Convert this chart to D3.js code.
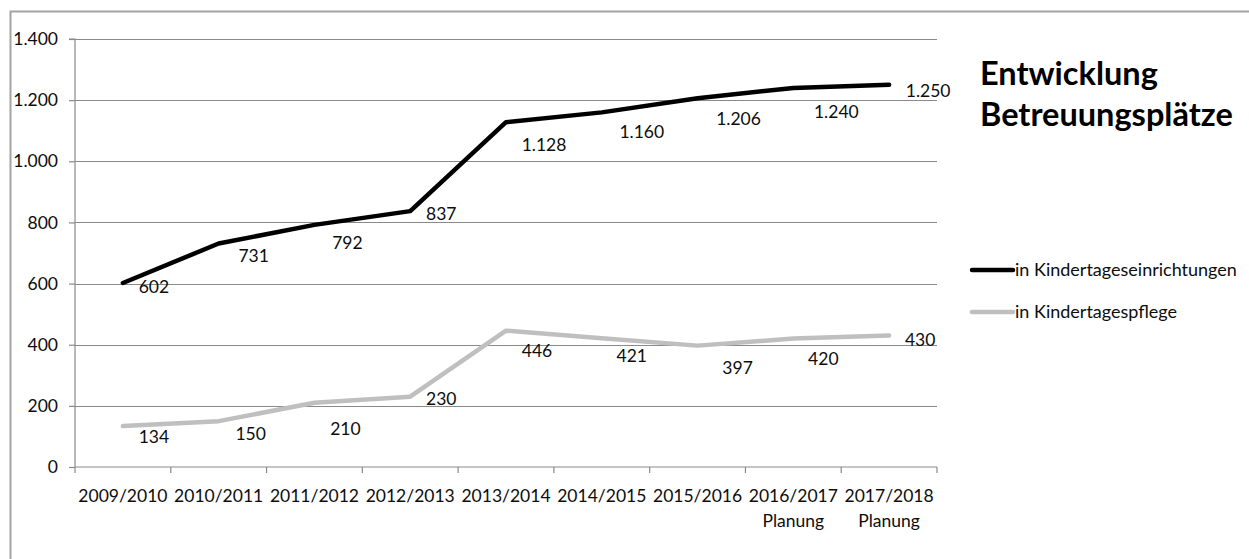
<!DOCTYPE html>
<html>
<head>
<meta charset="utf-8">
<script src="https://cdn.jsdelivr.net/npm/d3@7/dist/d3.min.js"></script>
<style>
  html, body { margin: 0; padding: 0; background: #fff; }
  svg { display: block; font-family: Lato, "Open Sans", sans-serif; }
</style>
</head>
<body>
<svg id="chart" width="1249" height="559"></svg>
<script>
// School years shown on the x axis, with an optional second label line
const categories = ["2009/2010", "2010/2011", "2011/2012", "2012/2013", "2013/2014",
                    "2014/2015", "2015/2016", "2016/2017", "2017/2018"];
const categoryNotes = ["", "", "", "", "", "", "", "Planung", "Planung"];

// Childcare places per year
const kitaValues = [602, 731, 792, 837, 1128, 1160, 1206, 1240, 1250];
const pflegeValues = [134, 150, 210, 230, 446, 421, 397, 420, 430];

const seriesNames = ["in Kindertageseinrichtungen", "in Kindertagespflege"];
const yTicks = [0, 200, 400, 600, 800, 1000, 1200, 1400];
const titleLines = ["Entwicklung", "Betreuungsplätze"];

// Small per-label nudges (px) so value labels sit clear of the lines
const kitaLabelNudge = [[31, 4], [35, 12], [33, 18], [31, 3], [38, 23], [40, 20], [41, 21], [43, 24], [39, 6]];
const pflegeLabelNudge = [[31, 11], [32, 13], [31, 26], [31, 2], [31, 20], [30, 18], [40, 22], [30, 20], [31, 4]];

const de = d3.formatLocale({ decimal: ",", thousands: ".", grouping: [3], currency: ["", " €"] });
const fmt = de.format(",d");

const svg = d3.select("#chart");
const plotLeft = 75, plotRight = 937, plotTop = 39, plotBottom = 467;
const gridColor = "#8a8a8a";
const textColor = "#0d0d0d";

// Outer frame
svg.append("rect")
  .attr("x", 10.5).attr("y", 11.5)
  .attr("width", 1300).attr("height", 600)
  .attr("fill", "none").attr("stroke", "#a3a3a3").attr("stroke-width", 2);

const x = d3.scaleBand().domain(categories).range([plotLeft, plotRight]).paddingInner(0).paddingOuter(0);
const y = d3.scaleLinear().domain([0, 1400]).range([plotBottom, plotTop]);
const cx = c => x(c) + x.bandwidth() / 2;

// Horizontal gridlines
svg.append("g")
  .selectAll("line")
  .data(yTicks.filter(d => d > 0))
  .join("line")
  .attr("x1", plotLeft).attr("x2", plotRight)
  .attr("y1", d => Math.round(y(d)) + 0.5).attr("y2", d => Math.round(y(d)) + 0.5)
  .attr("stroke", gridColor).attr("stroke-width", 1.2);

// Y axis
const yAxis = svg.append("g")
  .attr("transform", `translate(${plotLeft},0)`)
  .call(d3.axisLeft(y).tickValues(yTicks).tickFormat(fmt).tickSize(6).tickPadding(11));
yAxis.select(".domain").attr("stroke", gridColor).attr("stroke-width", 1.2).attr("d", `M-6,${plotTop}H0V${plotBottom}`);
yAxis.selectAll(".tick line").attr("stroke", gridColor).attr("stroke-width", 1.2);
yAxis.selectAll(".tick text").attr("font-size", 17.5).attr("fill", textColor).attr("font-family", "Lato");

// X axis with boundary ticks between categories
const xAxis = svg.append("g")
  .attr("transform", `translate(0,${plotBottom})`)
  .call(d3.axisBottom(x).tickSize(0).tickFormat(() => ""));
xAxis.select(".domain").attr("stroke", gridColor).attr("stroke-width", 1.2).attr("d", `M${plotLeft},0H${plotRight}`);

const boundaries = d3.range(categories.length + 1).map(i => plotLeft + i * x.bandwidth());
xAxis.selectAll(".boundary")
  .data(boundaries)
  .join("line")
  .attr("class", "boundary")
  .attr("x1", d => d).attr("x2", d => d)
  .attr("y1", 0).attr("y2", 6)
  .attr("stroke", gridColor).attr("stroke-width", 1.2);

xAxis.selectAll(".tick text").remove();
xAxis.selectAll(".tick").each(function(d, i) {
  const t = d3.select(this).append("text")
    .attr("text-anchor", "middle")
    .attr("font-size", 17.5)
    .attr("font-family", "Lato")
    .attr("fill", textColor);
  t.append("tspan").attr("x", 0).attr("y", 35).text(d);
  if (categoryNotes[i]) t.append("tspan").attr("x", 0).attr("y", 60).text(categoryNotes[i]);
});

// Lines
const line = d3.line()
  .x((d, i) => cx(categories[i]))
  .y(d => y(d));

const series = [
  { name: seriesNames[0], values: kitaValues, color: "#000000", nudge: kitaLabelNudge },
  { name: seriesNames[1], values: pflegeValues, color: "#bfbfbf", nudge: pflegeLabelNudge }
];

series.forEach(s => {
  svg.append("path")
    .datum(s.values)
    .attr("d", line)
    .attr("fill", "none")
    .attr("stroke", s.color)
    .attr("stroke-width", 4.5)
    .attr("stroke-linejoin", "round")
    .attr("stroke-linecap", "round");
});

// Value labels
series.forEach(s => {
  svg.append("g")
    .selectAll("text")
    .data(s.values)
    .join("text")
    .attr("x", (d, i) => cx(categories[i]) + s.nudge[i][0])
    .attr("y", (d, i) => y(d) + s.nudge[i][1])
    .attr("dy", "0.35em")
    .attr("text-anchor", "middle")
    .attr("font-size", 17.5)
    .attr("font-family", "Lato")
    .attr("fill", textColor)
    .text(d => fmt(d));
});

// Title
const title = svg.append("text")
  .attr("x", 980)
  .attr("font-size", 32.5)
  .attr("font-weight", "bold")
  .attr("font-family", "Lato")
  .attr("fill", "#000");
titleLines.forEach((t, i) => title.append("tspan").attr("x", 980).attr("y", 85 + i * 41).text(t));

// Legend
const legend = svg.append("g").attr("transform", "translate(972,270)");
series.forEach((s, i) => {
  const g = legend.append("g").attr("transform", `translate(0,${i * 42})`);
  g.append("line")
    .attr("x1", 0).attr("x2", 41).attr("y1", 0).attr("y2", 0)
    .attr("stroke", s.color).attr("stroke-width", 4.5).attr("stroke-linecap", "round");
  g.append("text")
    .attr("x", 43).attr("y", 0).attr("dy", "0.35em")
    .attr("font-size", 18)
    .attr("font-family", "Lato")
    .attr("fill", textColor)
    .text(s.name);
});
</script>
</body>
</html>
